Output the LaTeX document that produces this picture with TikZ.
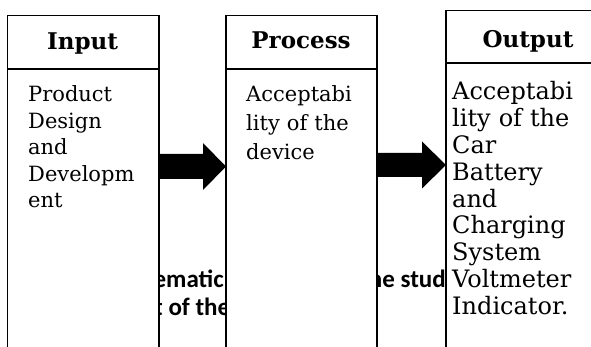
\documentclass[tikz,border=0pt]{standalone}
\usepackage{fontspec}
\usetikzlibrary{calc}
\newfontfamily\bodyfont{DejaVu Serif}
\newfontfamily\capfont{Carlito}

\tikzset{
  stage/.style={draw=black, line width=1.2pt, fill=white, inner sep=0pt, anchor=north west},
  headtext/.style={font=\bodyfont\bfseries\fontsize{23}{26}\selectfont, anchor=base, inner sep=0pt},
  bodytext/.style={anchor=base west, inner sep=0pt, align=left, text width=150pt},
  captext/.style={font=\capfont\bfseries\fontsize{25}{28}\selectfont, inner sep=0pt},
  flow/.style={fill=black, draw=none}
}

\begin{document}
\begin{tikzpicture}[x=1pt, y=-1pt]
  \useasboundingbox (0,0) rectangle (591,347);
  \clip (0,0) rectangle (591,347);

  % the three stage boxes (they run past the lower and right edges)
  \node[stage, minimum width=151pt, minimum height=360pt] (in)   at (7,15)   {};
  \node[stage, minimum width=150pt, minimum height=360pt] (proc) at (226,15) {};
  \node[stage, minimum width=170pt, minimum height=360pt] (out)  at (446,10) {};

  % caption fragments, visible only in the gaps between the boxes
  \begin{scope}
    \clip (in.north east) rectangle (proc.south west);
    \node[captext, anchor=base east] (cap1) at (224,287) {ematic};
    \node[captext, anchor=base west] (cap3) at (154,315) {t of the};
  \end{scope}
  \begin{scope}
    \clip (proc.north east) rectangle (out.south west);
    \node[captext, anchor=base east] (cap2) at (446,287) {he stud};
  \end{scope}

  % box outlines drawn again on top of the caption
  \draw[line width=1.2pt] (in.north east) -- (in.south east);
  \draw[line width=1.2pt] (proc.north west) -- (proc.south west);
  \draw[line width=1.2pt] (proc.north east) -- (proc.south east);
  \draw[line width=1.2pt] (out.north west) -- (out.south west);

  % header rules
  \draw[line width=1.2pt] (in.west |- 0,69) -- (in.east |- 0,69);
  \draw[line width=1.2pt] (proc.west |- 0,69) -- (proc.east |- 0,69);
  \draw[line width=1.2pt] (out.west |- 0,63) -- (out.east |- 0,63);

  % headers
  \node[headtext] (inh)   at (82.5,50) {Input};
  \node[headtext] (proch) at (301,49)  {Process};
  \node[headtext] (outh)  at (528,48)  {Output};

  % box contents
  \node[bodytext, font=\bodyfont\fontsize{21}{26.5}\selectfont] (intext) at (28,102)
    {Product\\Design\\and\\Developm\\ent};
  \node[bodytext, font=\bodyfont\fontsize{21}{29}\selectfont] (proctext) at (246,102)
    {Acceptabi\\lity of the\\device};
  \node[bodytext, font=\bodyfont\fontsize{24}{26.8}\selectfont] (outtext) at (452,100)
    {Acceptabi\\\makebox[122pt][s]{lity of the}\\Car\\Battery\\and\\Charging\\System\\Voltmeter\\Indicator.};

  % block arrows between the stages
  \coordinate (a1s) at (in.east |- 0,166.5);
  \coordinate (a1t) at (proc.west |- 0,166.5);
  \fill[flow] ($(a1s)+(0,-12.5)$) -- ($(a1t)+(-23,-12.5)$) -- ($(a1t)+(-23,-23.5)$)
    -- (a1t) -- ($(a1t)+(-23,23.5)$) -- ($(a1t)+(-23,12.5)$) -- ($(a1s)+(0,12.5)$) -- cycle;

  \coordinate (a2s) at (proc.east |- 0,165);
  \coordinate (a2t) at (out.west |- 0,165);
  \fill[flow] ($(a2s)+(0,-12)$) -- ($(a2t)+(-24,-12)$) -- ($(a2t)+(-24,-23.5)$)
    -- (a2t) -- ($(a2t)+(-24,23.5)$) -- ($(a2t)+(-24,12)$) -- ($(a2s)+(0,12)$) -- cycle;
\end{tikzpicture}
\end{document}
